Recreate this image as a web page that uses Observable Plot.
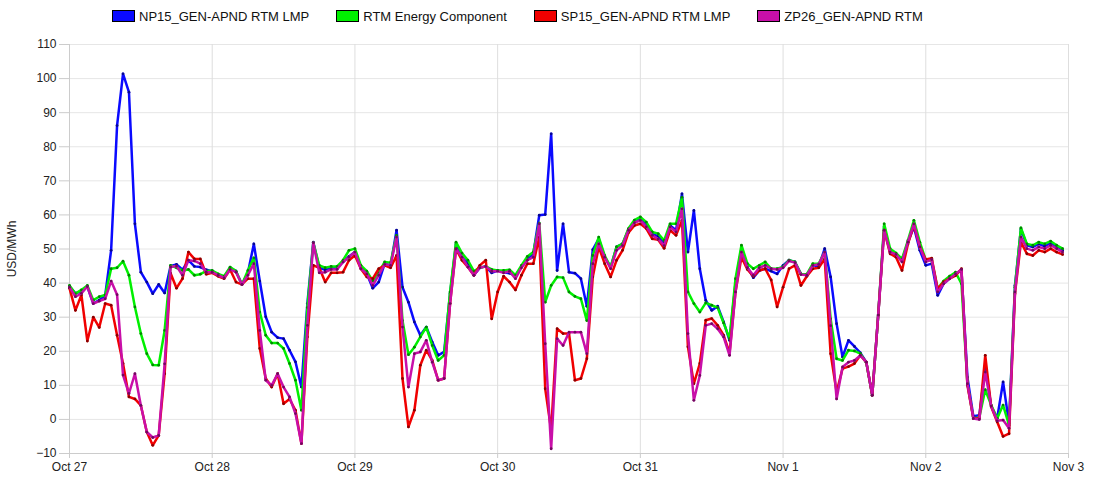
<!DOCTYPE html>
<html>
<head>
<meta charset="utf-8">
<script src="https://cdn.jsdelivr.net/npm/d3@7"></script>
<script src="https://cdn.jsdelivr.net/npm/@observablehq/plot@0.6"></script>
<style>
  body { margin: 0; background: #fff; font-family: Arial, "Liberation Sans", sans-serif; }
  #wrap { width: 1100px; height: 500px; position: relative; }
  #legend { height: 30px; display: flex; align-items: center; padding-left: 112px; padding-top: 2px; box-sizing: border-box; font-size: 13px; color: #111; }
  .item { display: flex; align-items: center; margin-right: 27px; }
  .sw { width: 21px; height: 10px; border: 1px solid #000; margin-right: 4px; }
  #chart svg { display: block; }
</style>
</head>
<body>
<div id="wrap">
  <div id="legend"></div>
  <div id="chart"></div>
</div>
<script>
// Series names and colours
const seriesNames = ["NP15_GEN-APND RTM LMP", "RTM Energy Component", "SP15_GEN-APND RTM LMP", "ZP26_GEN-APND RTM"];
const seriesColors = ["#0a0aff", "#00f000", "#f00000", "#c80fa8"];

// Day tick labels (x axis) and y ticks
const dayLabels = ["Oct 27", "Oct 28", "Oct 29", "Oct 30", "Oct 31", "Nov 1", "Nov 2", "Nov 3"];
const yTicks = [-10, 0, 10, 20, 30, 40, 50, 60, 70, 80, 90, 100, 110];

// Hourly values (USD/MWh), Oct 27 00:00 → Nov 2 23:00
const np15 = [
  39, 37, 37.5, 39, 34, 35, 36.4, 49.6, 86.2, 101.4, 96, 57.4, 43.2, 40.3, 36.9, 39.6, 37.1, 45, 45.5, 43.9, 46.7, 44.9, 44.7, 43.9,
  43.5, 42.5, 41.8, 44.5, 43.5, 39.6, 43, 51.5, 40.6, 30.1, 25.6, 24, 23.7, 20.3, 16.9, 9.5, 34, 52, 44.5, 43.9, 44.5, 44.5, 46.2, 47.8,
  49.1, 44.7, 42.7, 38.5, 40.3, 45.7, 45.2, 55.5, 38.8, 34.4, 28.6, 24.7, 27.1, 22.7, 18.8, 19.8, 36.9, 51.5, 47.6, 45.7, 42.3, 44.5, 44.9, 43,
  43.7, 43.2, 42.9, 42.3, 44.7, 47.1, 48.6, 59.9, 60.1, 83.8, 43.7, 57.4, 43.2, 42.9, 41.3, 33.2, 49.8, 53, 47.6, 44.7, 50.6, 51.5, 55.7, 57.9,
  58.9, 56.9, 54.5, 53.7, 51.7, 56.9, 55.5, 66.2, 49.1, 61.3, 44.2, 34.9, 32, 33.2, 28.6, 23.2, 40, 50.1, 44.7, 41.6, 43.7, 44.2, 43.5, 42.7,
  45.2, 46.7, 46.2, 42.7, 42.3, 45.2, 44.9, 50.1, 41.8, 28.1, 18.3, 23.2, 21.4, 19.5, 16.8, 7.1, 30.6, 56.5, 49.1, 48.4, 46.7, 52, 56.5, 49.6,
  45.2, 45.7, 36.4, 39.8, 41.3, 42.7, 43.7, 12.4, 0.9, 1.2, 15.4, 3.9, 0.3, 11, -1.2, 39.3, 55.9, 51.1, 50.6, 51.5, 50.8, 51.8, 50.6, 49.6
];
const rtm = [
  39.3, 36.9, 38, 39.3, 35, 36, 36.5, 44.2, 44.5, 46.4, 42.3, 33, 25.2, 19.3, 16, 15.9, 26.1, 45.2, 44.5, 43.7, 44, 42.3, 42.6, 43.5,
  43.7, 42.7, 42, 44.7, 43.5, 39.6, 43.7, 47.4, 31.5, 24.7, 22.4, 22.4, 20.8, 16.4, 11.5, 2.7, 32.8, 51.8, 45.2, 44.5, 44.9, 44.9, 46.7, 49.6,
  50.1, 45.2, 43.5, 40.6, 43, 46.2, 46, 54, 29, 19, 21.2, 24.2, 27.1, 21.7, 17.3, 18.8, 37.4, 52, 48.8, 46.7, 43.5, 44.5, 44.9, 44,
  43.7, 43.7, 43.9, 42.3, 45.2, 47.8, 49.1, 57.6, 34.4, 39.3, 41.8, 41.6, 37.4, 36.1, 35.4, 29, 48.1, 53.5, 48.1, 44.7, 50.6, 51.5, 56, 58.5,
  59.4, 57.9, 55, 54.5, 52.5, 57.4, 57.4, 65.2, 37.4, 34, 31.5, 34.2, 33.5, 32.8, 28.3, 23.7, 41.3, 51.1, 45.7, 44.2, 45.2, 46.2, 44.2, 44.2,
  44.7, 46.7, 46.2, 42.7, 42.6, 45.7, 45.7, 49.1, 29.5, 17.8, 17.3, 20.3, 20.1, 19.3, 16.6, 7.1, 30.6, 57.4, 50.1, 48.8, 47.1, 52.5, 58.4, 52,
  46.7, 46.7, 38.3, 40.6, 42, 43.2, 39.8, 10.5, 0.3, 0.6, 8.7, 4.2, 0.3, 4.2, -1.7, 38.8, 56.2, 51.5, 51.1, 52, 51.5, 52.3, 51.1, 50.1
];
const sp15 = [
  38.5, 32, 36.5, 23, 30, 27, 34, 33.5, 24.7, 16.4, 6.6, 6, 4.1, -3.7, -7.6, -4.7, 13.4, 42.9, 38.5, 41.3, 49.1, 47.1, 47.1, 42.6,
  43, 42, 41.3, 44, 40.3, 39.6, 41.3, 41.3, 20.8, 12, 9.5, 13.4, 4.6, 6, 2.7, -7.1, 24.2, 45.2, 44.5, 40.3, 43, 43, 43.2, 46.7,
  48.1, 44.2, 41.8, 41.3, 44.2, 45.2, 44.5, 48.1, 12, -2.2, 2.7, 15.9, 20.3, 17.3, 11.5, 12, 34, 50, 46.7, 44.7, 42.3, 45.2, 46.7, 29.5,
  37.4, 42, 40.3, 38, 42.3, 45.7, 45.7, 53.5, 9, -3.1, 26.6, 25.2, 25.2, 11.5, 12, 17.8, 41.8, 50.6, 45.7, 41.8, 46.7, 49.6, 54.8, 56.9,
  57.4, 56, 53, 52.7, 50.2, 55.5, 54, 58.4, 21.3, 10.5, 16.4, 29.1, 29.6, 27.6, 24.7, 19.5, 37.4, 47.6, 44, 42, 43.7, 44.2, 40.9, 33,
  38.8, 44.2, 45.2, 39.3, 42, 44.2, 44.5, 47.1, 19.3, 8, 14.9, 15.5, 16.4, 18.8, 16.8, 7.1, 30.6, 55.5, 48.6, 47.6, 43.7, 51.5, 57, 50.6,
  46.9, 47.3, 38.3, 40.3, 41.3, 42.2, 44.2, 10, 0.3, 0.3, 18.8, 3.7, -0.7, -5, -4.2, 36.9, 52, 48.6, 48.1, 49.6, 49.1, 50.1, 49.1, 48.4
];
const zp26 = [
  38.8, 36, 37, 39, 34, 34.7, 35.4, 40.6, 36.6, 13, 7.6, 13.4, 4.1, -3.7, -5.3, -4.7, 16.3, 44.7, 45, 42.3, 46.7, 46.5, 45.7, 43.2,
  43.2, 42.3, 41.5, 44, 43.2, 39.6, 42.3, 45.7, 26.1, 11.5, 10, 13.4, 9.5, 6.6, 1.7, -7.1, 27.6, 51.8, 43, 43.2, 44, 44, 46.2, 47.6,
  49.1, 44.2, 42.7, 39.3, 42.3, 45.5, 45.2, 53.5, 27.1, 9.5, 19.3, 19.8, 23.2, 16.8, 11.5, 12, 34, 50, 47.6, 44.7, 42.3, 44.5, 44.9, 43.5,
  43.5, 43, 43.5, 41.3, 44.5, 46.7, 47.6, 57.4, 22.2, -8.6, 23.7, 21.7, 25.6, 25.6, 25.6, 19.3, 45.7, 51.5, 47.6, 44.2, 49.6, 51, 55.5, 57.7,
  58.4, 56.5, 54, 52.9, 51, 56.5, 55, 61.8, 25.2, 5.6, 12.9, 27.6, 28.1, 26.6, 24.2, 18.8, 37.4, 49.1, 44.5, 42.3, 44.5, 45.2, 44.2, 44,
  44.5, 46.5, 46, 42.5, 42.3, 45.2, 45.5, 49.1, 27.5, 6, 15.4, 16.8, 17.3, 18.8, 16.8, 7.1, 30.6, 55.5, 49.1, 48.4, 46.2, 52, 57.4, 50.6,
  46.2, 46.9, 37.4, 39.8, 41.3, 42.7, 44, 10.5, 0.3, 0, 13.9, 3.9, -0.4, -0.2, -2.6, 37.4, 53.5, 50.1, 49.6, 50.6, 50.1, 51.1, 50.1, 49.1
];

const seriesValues = [np15, rtm, sp15, zp26];
const start = Date.UTC(2023, 9, 27);
const HOUR = 3600 * 1000;
const days = dayLabels.map((_, i) => new Date(start + i * 24 * HOUR));

const rows = [];
seriesValues.forEach((vals, s) => {
  vals.forEach((v, h) => rows.push({ series: seriesNames[s], date: new Date(start + h * HOUR), value: v }));
});

// Legend
const legend = document.getElementById("legend");
seriesNames.forEach((name, i) => {
  const it = document.createElement("div");
  it.className = "item";
  const sw = document.createElement("span");
  sw.className = "sw";
  sw.style.background = seriesColors[i];
  const tx = document.createElement("span");
  tx.textContent = name;
  it.appendChild(sw); it.appendChild(tx);
  legend.appendChild(it);
});

const lineMarks = [];
const dotMarks = [];
seriesNames.forEach((name, i) => {
  const data = rows.filter(r => r.series === name);
  lineMarks.push(Plot.line(data, { x: "date", y: "value", stroke: seriesColors[i], strokeWidth: 2.5, strokeLinejoin: "round" }));
  dotMarks.push(Plot.dot(data, { x: "date", y: "value", r: 1.4, fill: d3.color(seriesColors[i]).darker(1.6).formatHex(), stroke: "none" }));
});

const chart = Plot.plot({
  width: 1100,
  height: 470,
  marginTop: 14,
  marginBottom: 47,
  marginLeft: 69,
  marginRight: 32,
  style: { fontFamily: "Arial, 'Liberation Sans', sans-serif", fontSize: "12px", color: "#222", background: "#fff" },
  x: { type: "utc", domain: [days[0], days[days.length - 1]] },
  y: { domain: [-10, 110] },
  marks: [
    Plot.gridY(yTicks, { stroke: "#e6e6e6", strokeOpacity: 1 }),
    Plot.gridX(days, { stroke: "#dedede", strokeOpacity: 1 }),
    Plot.axisY(yTicks, { tickSize: 10, tickPadding: 3, stroke: "#ccc", label: "USD/MWh", labelAnchor: "center", labelArrow: "none", labelOffset: 62 }),
    Plot.axisX(days, { tickSize: 5, tickPadding: 4, stroke: "#ccc", tickFormat: (d, i) => dayLabels[i], label: null }),
    Plot.ruleX([days[0]], { stroke: "#ccc" }),
    Plot.ruleY([-10], { stroke: "#ccc" }),
    ...seriesNames.map((_, i) => [lineMarks[i], dotMarks[i]]).flat()
  ]
});
document.getElementById("chart").appendChild(chart);
</script>
</body>
</html>
